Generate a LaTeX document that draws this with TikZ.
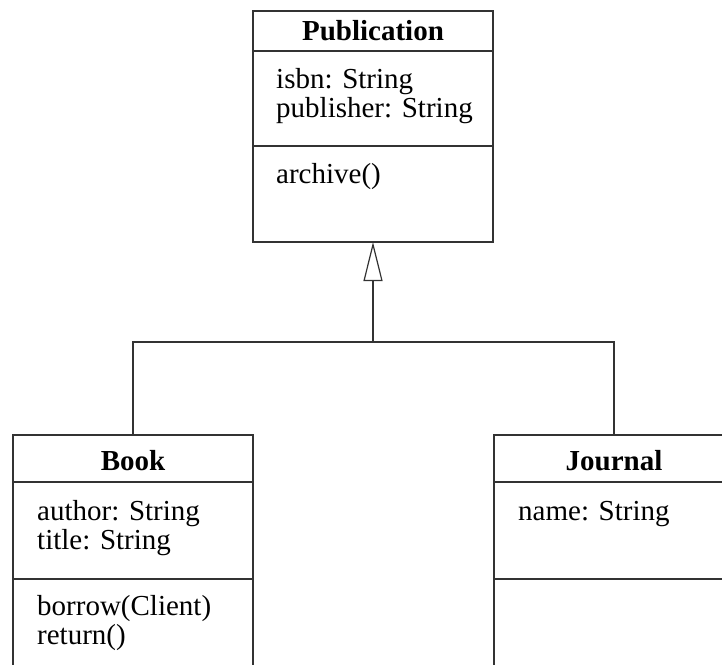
\documentclass[tikz,border=0pt]{standalone}
\usepackage{fontspec}
\setmainfont{Liberation Serif}
\usetikzlibrary{positioning,arrows.meta}

\newcommand{\memberlist}[1]{\begin{tabular}[t]{@{}l@{}}#1\end{tabular}}

\begin{document}
\begin{tikzpicture}[
    x=1pt, y=-1pt,
    node distance=0pt,
    every node/.style={font=\fontsize{29}{29}\selectfont},
    part/.style={draw=black!80, line width=1.2pt, minimum width=240pt,
                 inner sep=0pt, outer sep=0pt},
    cname/.style={font=\fontsize{29}{29}\selectfont\bfseries, anchor=base},
    member/.style={anchor=base west, inner sep=0pt},
    gen/.style={draw=black!80, line width=1.2pt},
    inherit/.style={gen, -{Triangle[open, fill=white, length=39pt, width=19pt]}}
  ]
    \useasboundingbox (0,0) rectangle (722,664);

    % superclass
    \node[part, minimum height=40pt, anchor=north west] (pubhead) at (253,11) {};
    \node[part, minimum height=95pt, below=of pubhead] (pubattr) {};
    \node[part, minimum height=96pt, below=of pubattr] (pubops) {};
    \node[cname] (pubname) at (373,40) {Publication};
    \node[member] (pubattrtxt) at (276,88) {\memberlist{isbn: String\\publisher: String}};
    \node[member] (puboptxt) at (276,183) {archive()};

    % subclasses
    \node[part, minimum height=47pt, anchor=north west] (bookhead) at (13,435) {};
    \node[part, minimum height=97pt, below=of bookhead] (bookattr) {};
    \node[part, minimum height=96pt, below=of bookattr] (bookops) {};
    \node[cname] (bookname) at (133,470) {Book};
    \node[member] (bookattrtxt) at (37,520) {\memberlist{author: String\\title: String}};
    \node[member] (bookoptxt) at (37,615) {\memberlist{borrow(Client)\\return()}};

    \node[part, minimum height=47pt, anchor=north west] (jourhead) at (494,435) {};
    \node[part, minimum height=97pt, below=of jourhead] (jourattr) {};
    \node[part, minimum height=96pt, below=of jourattr] (jourops) {};
    \node[cname] (journame) at (614,470) {Journal};
    \node[member] (jourattrtxt) at (518,520) {name: String};

    % generalization
    \coordinate (fork) at (373,342);
    \draw[gen] (bookhead.north) |- (fork) -| (jourhead.north);
    \draw[inherit] (fork) -- (pubops.south);
  \end{tikzpicture}
\end{document}
